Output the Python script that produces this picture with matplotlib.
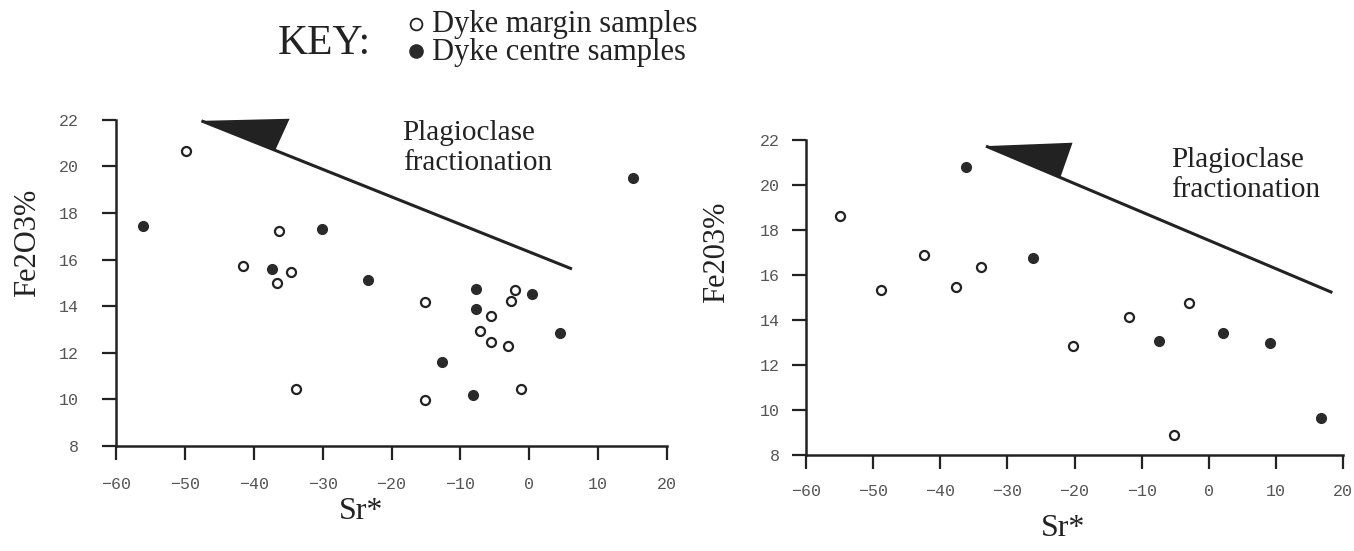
import matplotlib.pyplot as plt
from matplotlib.lines import Line2D

# Sr* vs Fe2O3 for the two dyke sets
left_margin_x = [-49.8, -36.4, -41.5, -34.6, -36.7, -33.9, -15.1, -15.2, -5.6, -7.2, -5.6, -3.15, -2.67, -2.1, -1.22]
left_margin_y = [20.66, 17.25, 15.74, 15.46, 15.01, 10.45, 14.17, 9.99, 13.58, 12.92, 12.47, 12.29, 14.23, 14.70, 10.45]
left_centre_x = [-56.1, -30.1, -37.3, -23.4, -7.75, -7.75, 0.42, 4.49, -12.6, -8.14, 15.1]
left_centre_y = [17.44, 17.32, 15.61, 15.11, 14.75, 13.87, 14.53, 12.84, 11.62, 10.2, 19.51]

right_margin_x = [-54.9, -48.9, -42.5, -37.7, -34.0, -20.3, -11.9, -2.97, -5.26]
right_margin_y = [18.64, 15.34, 16.89, 15.47, 16.36, 12.83, 14.15, 14.77, 8.87]
right_centre_x = [-36.1, -26.2, -7.4, 2.15, 9.1, 16.65]
right_centre_y = [20.80, 16.74, 13.07, 13.44, 12.96, 9.66]

# plagioclase fractionation vector: line + half arrowhead
left_vec_x = [-47.6, 6.2]
left_vec_y = [21.96, 15.6]
left_head_x = [-47.6, -34.8, -36.9]
left_head_y = [21.96, 22.05, 20.69]
right_vec_x = [-33.2, 18.4]
right_vec_y = [21.73, 15.22]
right_head_x = [-33.2, -20.3, -22.1]
right_head_y = [21.73, 21.88, 20.35]

xticks = [-60, -50, -40, -30, -20, -10, 0, 10, 20]
yticks = [8, 10, 12, 14, 16, 18, 20, 22]

serif = 'Liberation Serif'
mono = 'Liberation Mono'
ink = '#222222'


def style_axes(ax, ypad, xpad):
    ax.set_xlim(-62.5, 21)
    ax.set_ylim(8, 22.5)
    for side in ['top', 'right']:
        ax.spines[side].set_visible(False)
    ax.spines['left'].set_position(('data', -60))
    ax.spines['left'].set_bounds(8, 22)
    ax.spines['bottom'].set_bounds(-60, 20)
    for side in ['left', 'bottom']:
        ax.spines[side].set_linewidth(1.8)
        ax.spines[side].set_color(ink)
    ax.set_xticks(xticks)
    ax.set_yticks(yticks)
    ax.tick_params(axis='both', direction='out', length=10, width=1.6, color=ink,
                   labelcolor='#555555', labelsize=12)
    ax.tick_params(axis='y', pad=ypad)
    ax.tick_params(axis='x', pad=xpad)
    for lab in ax.get_xticklabels() + ax.get_yticklabels():
        lab.set_family(mono)
    ax.set_facecolor('none')


def draw_panel(ax, mx, my, cx, cy, vx, vy, hx, hy, text_xy):
    ax.plot(vx, vy, color=ink, lw=2.2, solid_capstyle='butt')
    ax.fill(hx, hy, color=ink, lw=0)
    ax.plot(mx, my, 'o', ms=6.5, mfc='white', mec=ink, mew=1.6, ls='none')
    ax.plot(cx, cy, 'o', ms=7, mfc='#2a2a2a', mec='#2a2a2a', ls='none')
    ax.text(text_xy[0], text_xy[1], 'Plagioclase\nfractionation', family=serif,
            fontsize=21, color=ink, ha='left', va='top', linespacing=1.2)


fig = plt.figure(figsize=(13.54, 5.51), dpi=100)
ax1 = fig.add_axes([0.0730, 0.1906, 0.4247, 0.6129])
ax2 = fig.add_axes([0.5829, 0.1742, 0.4140, 0.5921])

style_axes(ax1, ypad=17, xpad=12)
style_axes(ax2, ypad=9, xpad=11)

draw_panel(ax1, left_margin_x, left_margin_y, left_centre_x, left_centre_y,
           left_vec_x, left_vec_y, left_head_x, left_head_y, (-18.4, 22.0))
draw_panel(ax2, right_margin_x, right_margin_y, right_centre_x, right_centre_y,
           right_vec_x, right_vec_y, right_head_x, right_head_y, (-5.6, 21.7))

# axis titles
ax1.set_xlabel('Sr*', family=serif, fontsize=23, color=ink, va='top')
ax1.xaxis.set_label_coords(0.456, -0.15)
ax2.set_xlabel('Sr*', family=serif, fontsize=23, color=ink, va='top')
ax2.xaxis.set_label_coords(0.488, -0.18)
fig.text(28 / 1354, 1 - 243 / 551, 'Fe2O3%', family=serif, fontsize=22, color=ink,
         rotation=90, ha='center', va='center')
fig.text(717 / 1354, 1 - 252 / 551, 'Fe203%', family=serif, fontsize=22, color=ink,
         rotation=90, ha='center', va='center')

# key
fig.text(278 / 1354, 1 - 54 / 551, 'KEY:', family=serif, fontsize=30, color=ink,
         va='baseline', ha='left')
fig.add_artist(Line2D([416 / 1354], [1 - 24 / 551], transform=fig.transFigure,
                      marker='o', ms=8.5, mfc='white', mec=ink, mew=1.3, ls='none'))
fig.add_artist(Line2D([416 / 1354], [1 - 51 / 551], transform=fig.transFigure,
                      marker='o', ms=9.5, mfc='#2a2a2a', mec='#2a2a2a', ls='none'))
fig.text(432 / 1354, 1 - 32 / 551, 'Dyke margin samples', family=serif, fontsize=22,
         color=ink, va='baseline', ha='left')
fig.text(432 / 1354, 1 - 60 / 551, 'Dyke centre samples', family=serif, fontsize=22,
         color=ink, va='baseline', ha='left')

fig.savefig('out.png', dpi=100, facecolor='white')
